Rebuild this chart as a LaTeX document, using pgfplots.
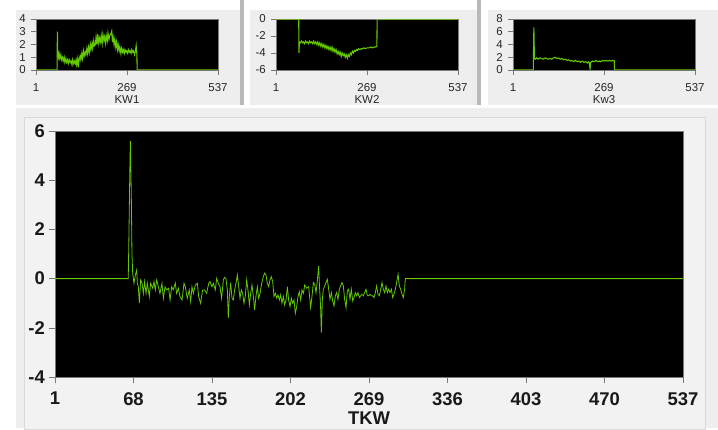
\documentclass[border=0pt]{standalone}
\usepackage{pgfplots}
\pgfplotsset{compat=1.18}
\usepackage{fontspec}
\setmainfont{Liberation Sans}
\definecolor{sig}{RGB}{100,200,0}
\definecolor{panel}{RGB}{238,238,238}
\definecolor{panelin}{RGB}{242,242,242}
\definecolor{axgray}{RGB}{120,120,120}
\pgfplotsset{
  smallchart/.style={
    scale only axis, width=182bp, height=51bp,
    xmin=1, xmax=537, xtick={1,269,537}, xticklabels={1,269,537},
    xtick pos=bottom, ytick pos=left, tick align=outside,
    major tick length=5bp,
    axis background/.style={fill=black},
    axis line style={axgray, line width=0.6pt},
    tick style={axgray, line width=0.6pt},
    ticklabel style={font=\fontsize{11.5}{12}\selectfont, text=black!85},
    xticklabel style={inner sep=0pt, yshift=-8bp},
    yticklabel style={inner sep=0pt, xshift=-5bp},
    xlabel style={font=\fontsize{11.5}{12}\selectfont, text=black!85, inner sep=0pt,
      at={(axis description cs:0.5,0)}, anchor=north, yshift=-25bp},
  },
}
\begin{document}
\begin{tikzpicture}
\fill[white] (0,0) rectangle (718bp,428bp);
% top panels
\fill[panel] (16bp,323bp) rectangle (240bp,418bp);
\fill[gray!55] (240bp,323bp) rectangle (244bp,428bp);
\fill[panel] (250bp,323bp) rectangle (477bp,418bp);
\fill[gray!55] (477bp,323bp) rectangle (481bp,428bp);
\fill[panel] (488bp,323bp) rectangle (718bp,418bp);
% main panel
\fill[panel] (16bp,0bp) rectangle (718bp,320bp);
\filldraw[fill=panelin, draw=gray!30] (24bp,-1bp) rectangle (705bp,311bp);

% KW1
\begin{axis}[smallchart, at={(36bp,358bp)}, anchor=south west,
  ymin=0, ymax=4, ytick={0,1,2,3,4}, yticklabels={0,1,2,3,4}, xlabel={KW1}]
\addplot[sig, line width=1.1bp] coordinates {
(1,0) (63,0) (64,3.0) (65,1.4) (67,1.0) (69,1.3) (71,0.9) (74,1.2) (76,0.8) (79,1.0) (81,0.7) (84,1.0) (86,0.6) (89,0.9) (91,0.6) (94,0.8) (96,0.5) (99,0.8) (102,0.6) (104,0.7) (107,0.4) (109,0.8) (112,0.5) (114,0.7) (117,0.5) (119,0.8) (121,0.4) (124,0.9) (126,0.2) (128,0.8) (131,1.1) (133,0.8) (136,1.3) (138,0.9) (141,1.5) (143,1.1) (146,1.4) (148,1.2) (151,1.7) (153,1.3) (156,1.8) (158,1.4) (161,2.0) (163,1.6) (166,2.1) (168,1.7) (171,2.3) (173,1.9) (176,2.0) (178,2.6) (181,2.0) (183,2.8) (186,2.1) (188,2.5) (191,2.2) (193,2.7) (196,2.1) (198,2.8) (201,2.3) (203,2.6) (206,2.1) (208,2.7) (211,2.3) (213,2.9) (216,2.4) (218,2.7) (221,2.8) (224,3.05) (226,2.2) (228,2.6) (231,2.0) (233,2.4) (236,1.8) (238,2.2) (241,1.6) (243,2.0) (246,1.5) (248,1.8) (251,1.3) (253,1.7) (256,1.4) (258,1.6) (261,1.3) (263,1.6) (266,1.4) (268,1.5) (271,1.3) (273,1.6) (276,1.4) (278,1.5) (281,1.3) (283,1.6) (286,1.4) (288,1.5) (291,1.2) (294,1.5) (296,1.9) (298,1.3) (299,0) (537,0)
};
\end{axis}

% KW2
\begin{axis}[smallchart, at={(276bp,358bp)}, anchor=south west,
  ymin=-6, ymax=0, ytick={-6,-4,-2,0}, yticklabels={-6,-4,-2,0}, xlabel={KW2}]
\addplot[sig, line width=1.1bp] coordinates {
(1,0) (68,0) (68.5,-4.0) (70,-2.7) (73,-2.8) (76,-2.6) (79,-2.8) (82,-2.7) (85,-2.9) (88,-2.6) (91,-2.8) (94,-2.7) (97,-2.9) (100,-2.6) (103,-2.8) (106,-2.7) (109,-2.9) (112,-2.6) (115,-2.9) (118,-2.7) (121,-3.0) (124,-2.7) (127,-3.1) (130,-2.8) (133,-3.2) (136,-2.9) (139,-3.3) (142,-3.0) (145,-3.4) (148,-3.1) (151,-3.5) (154,-3.2) (157,-3.6) (160,-3.3) (163,-3.7) (166,-3.3) (169,-3.8) (172,-3.5) (175,-3.9) (178,-3.6) (181,-4.1) (184,-3.8) (187,-4.2) (190,-3.9) (193,-4.4) (196,-4.0) (199,-4.3) (202,-4.1) (205,-4.5) (208,-4.2) (211,-4.6) (214,-4.2) (217,-4.4) (220,-4.0) (223,-4.2) (226,-3.8) (229,-4.0) (232,-3.7) (235,-3.8) (238,-3.6) (241,-3.7) (244,-3.5) (248,-3.6) (252,-3.5) (256,-3.5) (260,-3.4) (264,-3.5) (268,-3.4) (272,-3.4) (276,-3.4) (280,-3.3) (285,-3.4) (290,-3.3) (295,-3.3) (298,-3.2) (299,0) (537,0)
};
\end{axis}

% KW3
\begin{axis}[smallchart, at={(513bp,358bp)}, anchor=south west,
  ymin=0, ymax=8, ytick={0,2,4,6,8}, yticklabels={0,2,4,6,8}, xlabel={Kw3}]
\addplot[sig, line width=1.1bp] coordinates {
(1,0) (61,0) (61.5,3.2) (62.5,6.7) (64,1.8) (67,1.7) (70,1.9) (75,1.7) (80,1.9) (85,1.8) (90,1.7) (95,1.9) (100,1.8) (105,1.7) (110,1.8) (115,1.7) (120,1.9) (125,2.0) (130,1.8) (135,1.9) (140,1.7) (145,1.8) (150,1.6) (155,1.7) (160,1.5) (165,1.6) (170,1.4) (175,1.5) (180,1.3) (185,1.5) (190,1.3) (195,1.4) (200,1.2) (205,1.4) (210,1.2) (215,1.3) (220,1.1) (224,1.3) (226,1.0) (228,0.2) (230,1.2) (235,1.4) (240,1.3) (245,1.5) (250,1.3) (255,1.4) (260,1.3) (265,1.5) (270,1.4) (275,1.5) (280,1.4) (285,1.5) (290,1.4) (295,1.5) (299,1.5) (300,0) (537,0)
};
\end{axis}

% main
\begin{axis}[scale only axis, width=628bp, height=246bp,
  at={(55bp,51bp)}, anchor=south west,
  xmin=1, xmax=537, ymin=-4, ymax=6,
  xtick={1,68,135,202,269,336,403,470,537},
  xticklabels={1,68,135,202,269,336,403,470,537},
  ytick={-4,-2,0,2,4,6}, yticklabels={-4,-2,0,2,4,6},
  xtick pos=bottom, ytick pos=left, tick align=outside,
  major tick length=6bp,
  axis background/.style={fill=black},
  axis line style={axgray, line width=0.6pt},
  tick style={axgray, line width=0.6pt},
  ticklabel style={font=\bfseries\fontsize{18.5}{19}\selectfont, text=black!90},
  xticklabel style={inner sep=0pt, yshift=-9bp},
  yticklabel style={inner sep=0pt, xshift=-4bp},
  xlabel={TKW},
  xlabel style={font=\bfseries\fontsize{18.5}{19}\selectfont, text=black!90, inner sep=0pt,
    at={(axis description cs:0.5,0)}, anchor=north, yshift=-35bp},
]
\addplot[sig, line width=0.8bp] coordinates {
(1,0) (63.5,0) (64,1.4) (64.8,4.2) (65.3,5.6) (66.1,3.5) (66.7,1.0)
(67.3,0.22) (68.4,-0.19) (69.6,0.15) (70.7,0.35) (71.3,-0.19) (72.1,-0.33) (73.0,-1.00) (74.1,-0.05) (75.3,-0.19) (76.4,-0.60) (77.5,-0.12) (78.7,-0.60) (79.8,-0.19) (81.5,-0.73) (82.6,-0.19) (84.4,-0.39) (85.5,-0.12) (86.6,-0.46) (87.8,-0.05) (89.2,-0.33) (90.6,-0.60) (92.3,-0.19) (93.5,-0.80) (94.9,-0.33) (96.3,-0.46) (98.0,-0.39) (99.2,-0.87) (100.6,-0.33) (102.0,-0.46) (103.7,-0.19) (104.8,-0.60) (106.3,-0.39) (107.7,-0.73) (109.4,-0.87) (111.1,-0.19) (112.2,-0.33) (113.9,-0.80) (115.6,-0.46) (116.8,-0.93) (117.9,-0.33) (119.1,-0.60) (120.8,-0.26) (122.5,-0.19) (123.6,-0.73) (125.3,-1.00) (127.0,-0.46) (128.7,-0.46) (130.4,-0.60) (132.2,-0.19) (133.3,-0.12) (135.0,-0.33) (136.1,-0.19) (137.8,-0.46) (139.0,0.01) (140.4,-0.19) (141.8,-0.33) (143.2,-0.80) (144.7,-0.05) (145.8,0.05) (146.9,0.01) (148.1,-0.46) (148.9,-1.61) (149.8,-0.73) (150.9,-0.19) (152.1,-0.80) (153.2,-0.87) (154.3,-0.46) (155.5,-0.19) (156.6,0.15) (157.8,-0.33) (158.9,-0.80) (160.0,-0.46) (161.2,-0.60) (162.3,-1.00) (163.4,-0.73) (164.6,-0.05) (165.7,-0.46) (166.9,-1.07) (168.0,-0.60) (169.1,-0.26) (170.3,-0.73) (171.4,-1.27) (172.5,-0.73) (173.7,-0.33) (174.8,-0.80) (176.0,-0.60) (177.4,-0.19) (178.8,0.08) (179.9,0.22) (181.1,0.15) (182.2,-0.19) (183.4,-0.33) (184.5,-0.05) (185.6,0.08) (186.8,-0.12) (187.9,-0.73) (189.1,-0.60) (190.2,-0.80) (191.3,-0.66) (192.5,-0.87) (193.6,-0.66) (194.7,-1.00) (195.9,-0.73) (197.0,-1.07) (198.2,-0.87) (199.3,-0.33) (200.4,-0.87) (201.6,-1.14) (202.7,-0.80) (203.8,-1.00) (205.0,-0.87) (206.1,-1.41) (207.3,-1.14) (208.4,-0.73) (209.5,-0.53) (210.7,-0.87) (211.8,-0.46) (213.0,-0.60) (214.1,-0.26) (215.8,-0.39) (217.5,-0.33)
(219.2,-1.18) (220.4,-0.70) (221.5,-0.16) (222.6,-0.23) (223.8,-0.57) (224.9,-0.09) (226.0,0.51) (226.6,-0.16) (227.7,-1.18) (228.3,-2.20) (229.2,-0.84) (230.0,-0.43) (231.2,-0.30) (232.3,-0.16) (233.4,-0.03) (234.6,-0.43) (235.7,-0.84) (236.9,-0.57) (238.0,-0.91) (239.1,-1.11) (240.3,-0.70) (241.4,-0.57) (242.5,-0.84) (243.7,-0.43) (244.8,-0.30) (245.9,-0.16) (247.1,-0.30) (248.2,-0.84) (249.4,-1.18) (250.5,-0.50) (251.6,-0.43) (252.8,-0.84) (253.9,-0.43) (255.1,-0.91) (256.2,-0.77) (257.3,-0.57) (258.5,-0.70) (259.6,-0.57) (260.8,-0.77) (261.9,-0.70) (263.0,-0.64) (264.2,-0.70) (265.3,-0.57) (266.4,-0.43) (267.6,-0.70) (268.7,-0.70) (269.9,-0.64) (271.0,-0.70) (272.1,-0.70) (273.3,-0.77) (274.4,-0.57) (275.5,-0.30) (276.7,-0.64) (277.8,-0.70) (279.0,-0.43) (280.1,-0.16) (281.2,-0.43) (282.4,-0.57) (283.5,-0.30) (284.6,-0.57) (285.8,-0.43) (286.9,-0.57) (288.1,-0.43) (289.2,-0.77) (290.3,-0.64) (291.5,-0.43) (292.6,-0.16) (293.8,0.18) (294.9,-0.30) (296.0,-0.43) (297.2,-0.64) (298.3,-0.77) (299.4,-0.43) (300.0,0) (537,0)
};
\end{axis}
\end{tikzpicture}
\end{document}
